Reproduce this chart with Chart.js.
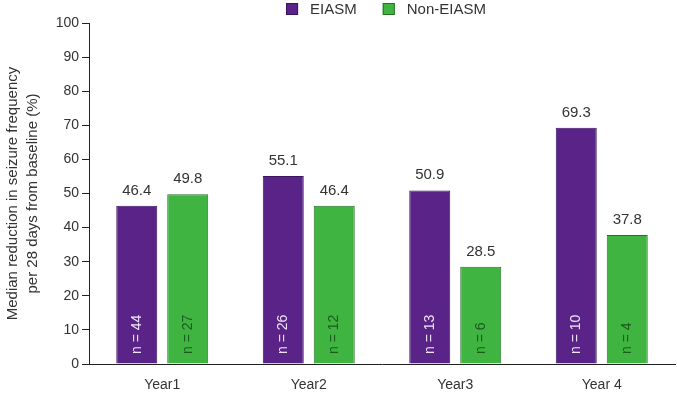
<!DOCTYPE html>
<html>
<head>
<meta charset="utf-8">
<script src="https://cdn.jsdelivr.net/npm/chart.js@4/dist/chart.umd.min.js"></script>
<style>
  html, body { margin: 0; padding: 0; background: #ffffff; }
  #wrap { width: 677px; height: 394px; position: relative; }
</style>
</head>
<body>
<div id="wrap"><canvas id="c"></canvas></div>
<script>
const categories = ["Year1", "Year2", "Year3", "Year 4"];
const seriesNames = ["EIASM", "Non-EIASM"];
const eiasmValues = [46.4, 55.1, 50.9, 69.3];
const nonEiasmValues = [49.8, 46.4, 28.5, 37.8];
const eiasmN = [44, 26, 13, 10];
const nonEiasmN = [27, 12, 6, 4];
const yTicks = [0, 10, 20, 30, 40, 50, 60, 70, 80, 90, 100];

const FONT = "'Liberation Sans', Arial, Helvetica, sans-serif";
const fills = ["#5a2388", "#3fb441"];
const borders = ["#3a1560", "#2b6e2c"];
const nColors = ["#eee4f6", "#1c5a1e"];
const nLists = [eiasmN, nonEiasmN];

const labelPlugin = {
  id: 'labels',
  afterDatasetsDraw(chart) {
    const ctx = chart.ctx;
    const yScale = chart.scales.y;
    chart.data.datasets.forEach((ds, di) => {
      const meta = chart.getDatasetMeta(di);
      meta.data.forEach((bar, i) => {
        ctx.save();
        ctx.fillStyle = '#333333';
        ctx.font = "15px " + FONT;
        ctx.textAlign = 'center';
        ctx.textBaseline = 'alphabetic';
        ctx.fillText(ds.data[i].toFixed(1), bar.x, bar.y - 11);
        ctx.restore();

        ctx.save();
        ctx.fillStyle = nColors[di];
        ctx.font = "14px " + FONT;
        ctx.translate(bar.x, yScale.getPixelForValue(0) - 10);
        ctx.rotate(-Math.PI / 2);
        ctx.textAlign = 'left';
        ctx.textBaseline = 'middle';
        ctx.fillText('n = ' + nLists[di][i], 0, 0);
        ctx.restore();
      });
    });
  },
  afterDraw(chart) {
    // legend
    const ctx = chart.ctx;
    const area = chart.chartArea;
    ctx.save();
    ctx.font = "15px " + FONT;
    const box = 12, gapText = 12, gapItem = 26;
    const widths = seriesNames.map(s => ctx.measureText(s).width);
    let total = 0;
    widths.forEach((w, i) => { total += box + gapText + w + (i < widths.length - 1 ? gapItem : 0); });
    let x = (area.left + area.right) / 2 - total / 2 + 4;
    const cy = 9;
    seriesNames.forEach((s, i) => {
      ctx.fillStyle = fills[i];
      ctx.fillRect(x, cy - box / 2, box, box);
      ctx.strokeStyle = borders[i];
      ctx.lineWidth = 1;
      ctx.strokeRect(x + 0.5, cy - box / 2 + 0.5, box - 1, box - 1);
      ctx.fillStyle = '#333333';
      ctx.textAlign = 'left';
      ctx.textBaseline = 'middle';
      ctx.fillText(s, x + box + gapText, cy + 1);
      x += box + gapText + widths[i] + gapItem;
    });
    ctx.restore();
  }
};

new Chart(document.getElementById('c'), {
  type: 'bar',
  data: {
    labels: categories,
    datasets: [
      { label: seriesNames[0], data: eiasmValues, backgroundColor: fills[0], borderColor: borders[0], borderWidth: 1 },
      { label: seriesNames[1], data: nonEiasmValues, backgroundColor: fills[1], borderColor: borders[1], borderWidth: 1 }
    ]
  },
  options: {
    responsive: true,
    maintainAspectRatio: false,
    animation: false,
    devicePixelRatio: 1,
    layout: { padding: { top: 23, right: 2, bottom: 0, left: 0 } },
    datasets: { bar: { categoryPercentage: 0.696, barPercentage: 0.804 } },
    plugins: { legend: { display: false }, tooltip: { enabled: false } },
    scales: {
      x: {
        grid: { display: false, drawTicks: false },
        border: { display: true, color: '#222222', width: 1 },
        ticks: { color: '#333333', font: { family: FONT, size: 14 }, padding: 13 },
        afterFit(scale) { scale.height = 30; }
      },
      y: {
        min: 0, max: 100,
        afterBuildTicks(scale) { scale.ticks = yTicks.map(v => ({ value: v })); },
        grid: { drawOnChartArea: false, drawTicks: true, tickLength: 7, color: '#222222' },
        border: { display: true, color: '#222222', width: 1 },
        ticks: { color: '#333333', font: { family: FONT, size: 14 }, padding: 3 },
        title: {
          display: true,
          text: ["Median reduction in seizure frequency", "per 28 days from baseline (%)"],
          color: '#333333',
          font: { family: FONT, size: 15, lineHeight: 1.33 },
          padding: { top: 3, bottom: 0 }
        },
        afterFit(scale) { scale.width = 89; }
      }
    }
  },
  plugins: [labelPlugin]
});
</script>
</body>
</html>
